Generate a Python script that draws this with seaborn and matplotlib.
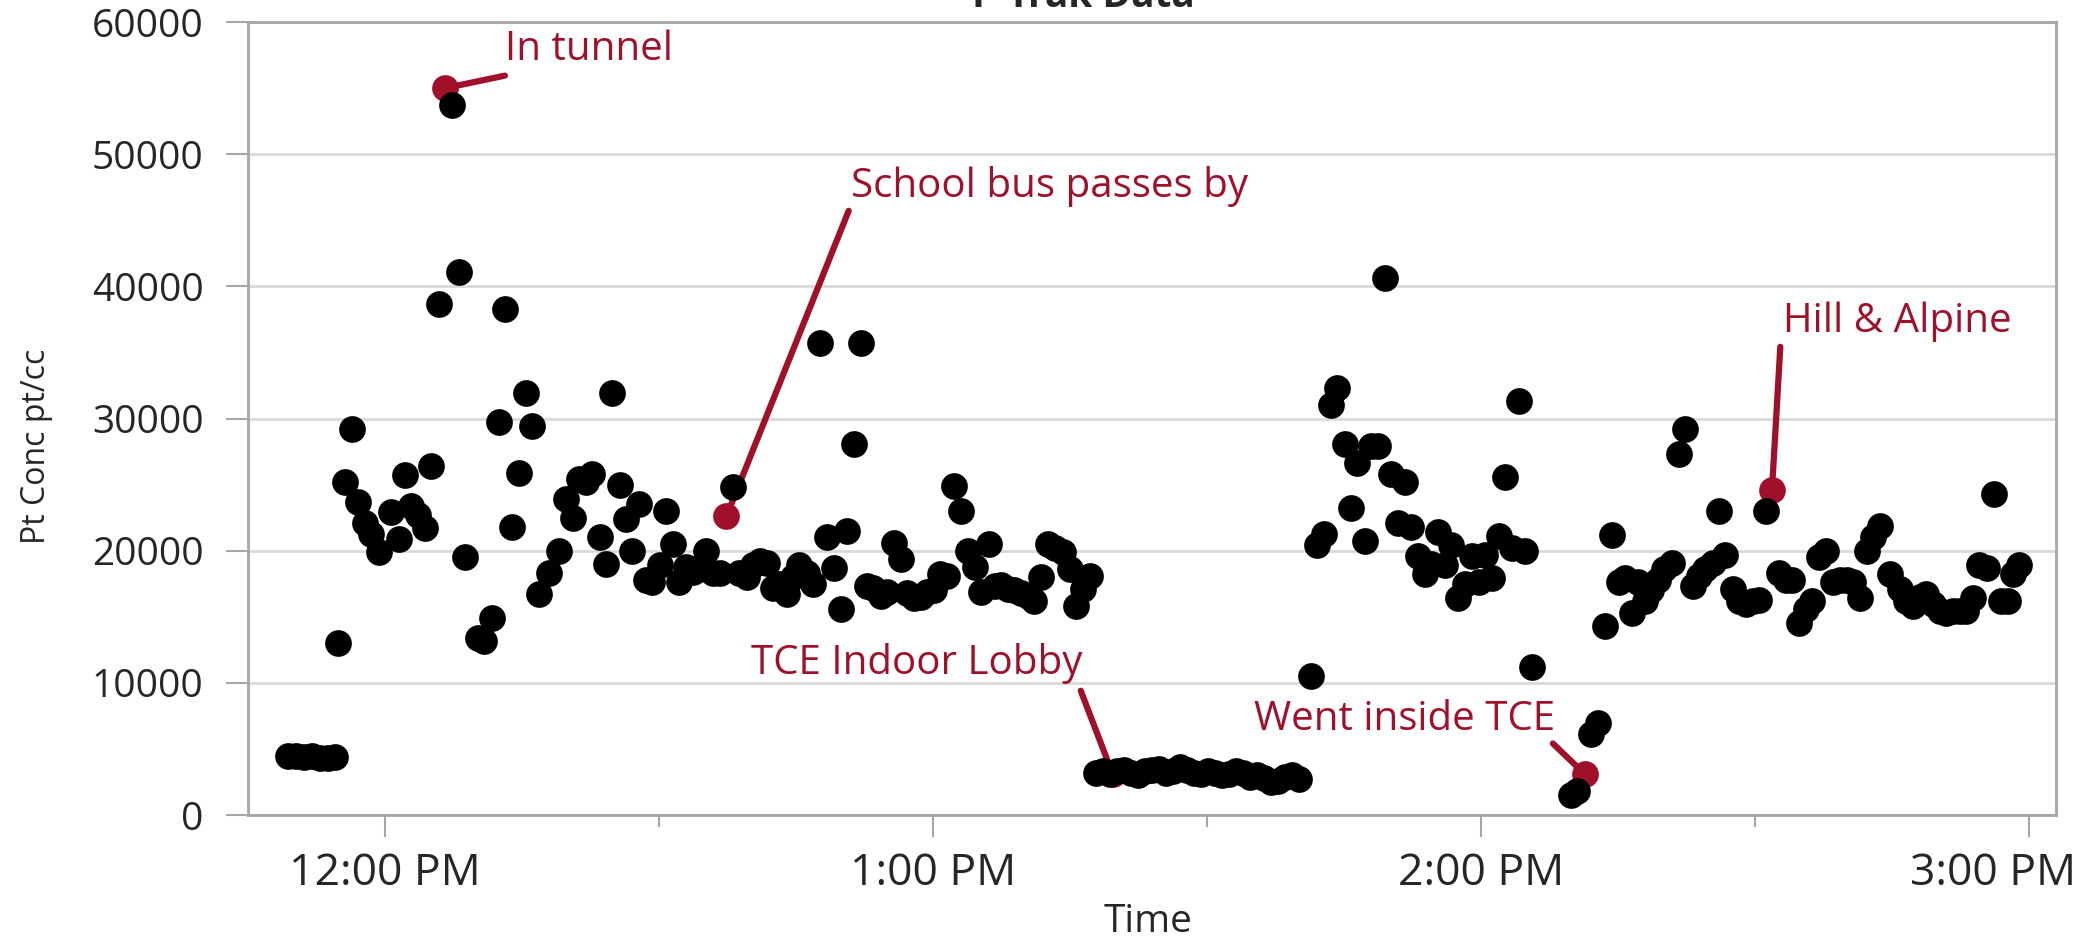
import matplotlib
matplotlib.use("Agg")
import matplotlib.pyplot as plt
import matplotlib.dates as mdates
import matplotlib.transforms as mtransforms
import seaborn as sns
import pandas as pd

# P-Trak readings, minutes after 12:00 PM and particle concentration (pt/cc)

# walking to the car
walk_minutes = [-10.6, -9.7, -8.9, -8.0, -7.1, -6.2, -5.5, -5.1]
walk_conc = [4500, 4500, 4400, 4500, 4300, 4300, 4400, 13000]

# first drive
drive1_minutes = [
    -4.4, -3.6, -2.9, -2.2, -1.5, -0.7, 0.7, 1.5, 2.2, 2.9, 3.6, 4.4, 5.1, 5.9,
    7.3, 8.1, 8.8, 10.2, 10.9, 11.7, 12.5, 13.2, 13.9, 14.7, 15.4, 16.1, 16.9,
    18.0, 19.1, 19.8, 20.6, 21.3, 22.0, 22.7, 23.5, 24.2, 24.9, 25.7, 26.4,
    27.1, 27.8, 28.6, 29.3, 30.1, 30.8, 31.6, 32.2, 33.0, 33.7, 34.4, 35.2,
    35.9, 36.7, 38.1, 38.8, 39.6, 40.3, 41.1, 41.8, 42.5, 43.2, 44.0, 44.7,
    45.4, 46.2, 46.9, 47.7, 48.4, 49.2, 49.9, 50.6, 51.4, 52.1, 52.8, 53.5,
    54.3, 55.0, 55.7, 56.5, 57.2, 57.9, 58.7, 59.4, 60.1, 60.8, 61.5, 62.3,
    63.1, 63.8, 64.6, 65.3, 66.1, 66.8, 67.5, 68.2, 68.9, 69.7, 70.4, 71.1,
    71.9, 72.6, 73.4, 74.3, 75.0, 75.7, 76.5, 77.2,
]
drive1_conc = [
    25200, 29200, 23700, 22100, 21300, 19900, 22900, 20900, 25700, 23400,
    22700, 21700, 26400, 38700, 53700, 41100, 19500, 13400, 13200, 14900,
    29700, 38300, 21800, 25900, 31900, 29400, 16700, 18300, 20000, 23900,
    22500, 25400, 25200, 25800, 21000, 19000, 31900, 25000, 22400, 20000,
    23500, 17800, 17600, 18900, 23000, 20500, 17600, 18800, 18400, 18600,
    20000, 18300, 18300, 24800, 18300, 18000, 18900, 19200, 19100, 17200,
    17500, 16700, 18000, 18900, 18300, 17500, 35700, 21000, 18700, 15600,
    21500, 28100, 35700, 17300, 17200, 16600, 16900, 20600, 19400, 16800,
    16400, 16500, 16900, 17000, 18200, 18100, 24900, 23000, 20000, 18800,
    16900, 20500, 17300, 17400, 17100, 17000, 16800, 16600, 16200, 18000,
    20500, 20200, 19900, 18600, 15800, 17100, 18100,
]

# indoors at the TCE lobby
lobby_minutes = [
    77.9, 78.6, 79.4, 80.2, 80.9, 81.7, 82.5, 83.2, 84.0, 84.8, 85.5, 86.3,
    87.1, 87.8, 88.6, 89.4, 90.1, 90.9, 91.7, 92.4, 93.2, 94.0, 94.7, 95.5,
    96.3, 97.0, 97.8, 98.6, 99.3, 100.1,
]
lobby_conc = [
    3200, 3300, 3100, 3300, 3400, 3200, 3000, 3300, 3400, 3500, 3200, 3300,
    3600, 3400, 3200, 3100, 3300, 3200, 3000, 3100, 3300, 3200, 2900, 3000,
    2800, 2500, 2600, 2900, 3000, 2700,
]

# second drive
drive2_minutes = [
    101.4, 102.1, 102.8, 103.6, 104.3, 105.1, 105.8, 106.5, 107.3, 108.0,
    108.7, 109.5, 110.2, 110.9, 111.7, 112.4, 113.1, 113.9, 114.6, 115.3,
    116.1, 116.8, 117.5, 118.3, 119.0, 119.8, 120.5, 121.2, 122.0, 122.7,
    123.4, 124.2, 124.9, 125.6,
]
drive2_conc = [
    10500, 20400, 21300, 31000, 32300, 28100, 23200, 26600, 20700, 27900,
    27900, 40600, 25800, 22100, 25200, 21800, 19600, 18200, 19000, 21400,
    18900, 20400, 16400, 17500, 19600, 17600, 19700, 17900, 21100, 25600,
    20200, 31300, 20000, 11200,
]

# short stop inside TCE
stop_minutes = [129.9, 130.6, 132.1, 132.8]
stop_conc = [1500, 1800, 6100, 7000]

# third drive
drive3_minutes = [
    133.6, 134.4, 135.1, 135.8, 136.6, 137.2, 138.0, 138.7, 139.4, 140.1,
    140.9, 141.7, 142.4, 143.2, 143.9, 144.6, 145.4, 146.1, 146.8, 147.6,
    148.3, 149.0, 149.8, 150.5, 151.2, 152.7, 153.4, 154.1, 154.9, 155.6,
    156.3, 157.1, 157.8, 158.6, 159.3, 160.1, 160.8, 161.5, 162.3, 163.0,
    163.7, 164.8, 165.9, 166.6, 167.3, 168.1, 168.8, 169.5, 170.3, 171.0,
    171.7, 172.5, 173.2, 173.9, 174.6, 175.4, 176.2, 177.0, 177.7, 178.3,
    179.0,
]
drive3_conc = [
    14300, 21200, 17600, 17900, 15300, 17600, 16200, 17000, 17800, 18600,
    19100, 27300, 29200, 17300, 18100, 18600, 19100, 23000, 19700, 17100,
    16200, 16000, 16200, 16300, 23000, 18300, 17800, 17800, 14500, 15600,
    16200, 19500, 20000, 17600, 17800, 17800, 17600, 16400, 20000, 21000,
    21900, 18200, 17100, 16200, 15800, 16500, 16700, 16000, 15400, 15300,
    15400, 15400, 15400, 16400, 18900, 18700, 24300, 16200, 16200, 18200,
    18900,
]

# highlighted readings with their notes
note_minutes = [6.6, 37.4, 79.7, 131.4, 151.9]
note_conc = [55000, 22600, 3100, 3100, 24600]
note_labels = ["In tunnel", "School bus passes by", "TCE Indoor Lobby",
               "Went inside TCE", "Hill & Alpine"]

START = pd.Timestamp("2016-05-10 12:00")


def to_time(mins):
    return START + pd.to_timedelta(mins, unit="min")


minutes = (walk_minutes + drive1_minutes + lobby_minutes + drive2_minutes
           + stop_minutes + drive3_minutes)
conc = walk_conc + drive1_conc + lobby_conc + drive2_conc + stop_conc + drive3_conc
df = pd.DataFrame({"time": to_time(pd.Series(minutes)), "conc": conc})
notes = pd.DataFrame({"time": to_time(pd.Series(note_minutes)), "conc": note_conc,
                      "label": note_labels})

RED = "#A0102A"
GRID = "#D9D9D9"
AXIS = "#A6A6A6"

sns.set_style("white")
plt.rcParams["font.family"] = ["Open Sans", "DejaVu Sans"]

fig = plt.figure(figsize=(20.96, 9.42), dpi=100)
ax = fig.add_axes([0.1183, 0.1348, 0.8626, 0.8418])

sns.scatterplot(data=notes, x="time", y="conc", color=RED, s=370, linewidth=0,
                ax=ax, zorder=3)
sns.scatterplot(data=df, x="time", y="conc", color="black", s=370, linewidth=0,
                ax=ax, zorder=4)

# leader lines (offsets in points from the dot) and note text
line_off = [(43, 9), (88, 220), (-23, 60), (-23, 22), (6, 103)]
text_off = [(43, 20), (90, 230), (-22, 72), (-21, 32), (8, 114)]
text_ha = ["left", "left", "right", "right", "left"]
for i, row in notes.iterrows():
    ax.annotate("", xy=(row["time"], row["conc"]), xytext=line_off[i],
                textcoords="offset points",
                arrowprops=dict(arrowstyle="-", color=RED, lw=4.5,
                                shrinkA=0, shrinkB=0), zorder=2.5)
    ax.annotate(row["label"], xy=(row["time"], row["conc"]), xytext=text_off[i],
                textcoords="offset points", ha=text_ha[i], va="baseline",
                color=RED, fontsize=29)

ax.set_ylim(0, 60000)
ax.set_yticks(range(0, 60001, 10000))
ax.set_xlim(to_time(-15), to_time(183))
ax.xaxis.set_major_locator(mdates.HourLocator())
ax.xaxis.set_minor_locator(mdates.MinuteLocator(byminute=[30]))
ax.xaxis.set_major_formatter(mdates.DateFormatter("%-I:%M %p"))

ax.set_axisbelow(True)
ax.yaxis.grid(True, color=GRID, lw=2)
ax.xaxis.grid(False)
for sp in ax.spines.values():
    sp.set_visible(True)
    sp.set_color(AXIS)
    sp.set_linewidth(2)

ax.tick_params(axis="x", which="major", length=16, width=1.5, color=AXIS,
               labelsize=32, pad=10, direction="out", bottom=True)
ax.tick_params(axis="x", which="minor", length=8.6, width=1.5, color=AXIS,
               direction="out", bottom=True)
ax.tick_params(axis="y", length=16, width=1.5, color=AXIS, labelsize=28,
               pad=16, direction="out", left=True)

ax.set_xlabel("Time", fontsize=28)
ax.xaxis.set_label_coords(0.498, -0.111)
ax.set_ylabel("Pt Conc pt/cc", fontsize=23)
ax.yaxis.set_label_coords(-0.108, 0.465)

fig.text(0.517, 1 - 7 / 942, "P-Trak Data", ha="center", va="baseline",
         fontsize=28, fontweight="bold")

# the last time label is pulled left so it stays inside the figure
fig.canvas.draw()
last = mdates.date2num(to_time(180))
shift = mtransforms.ScaledTranslation(-0.36, 0, fig.dpi_scale_trans)
for tick in ax.xaxis.get_major_ticks():
    if abs(tick.get_loc() - last) < 1e-6:
        tick.label1.set_transform(tick.label1.get_transform() + shift)

fig.savefig("out.png", dpi=100)
